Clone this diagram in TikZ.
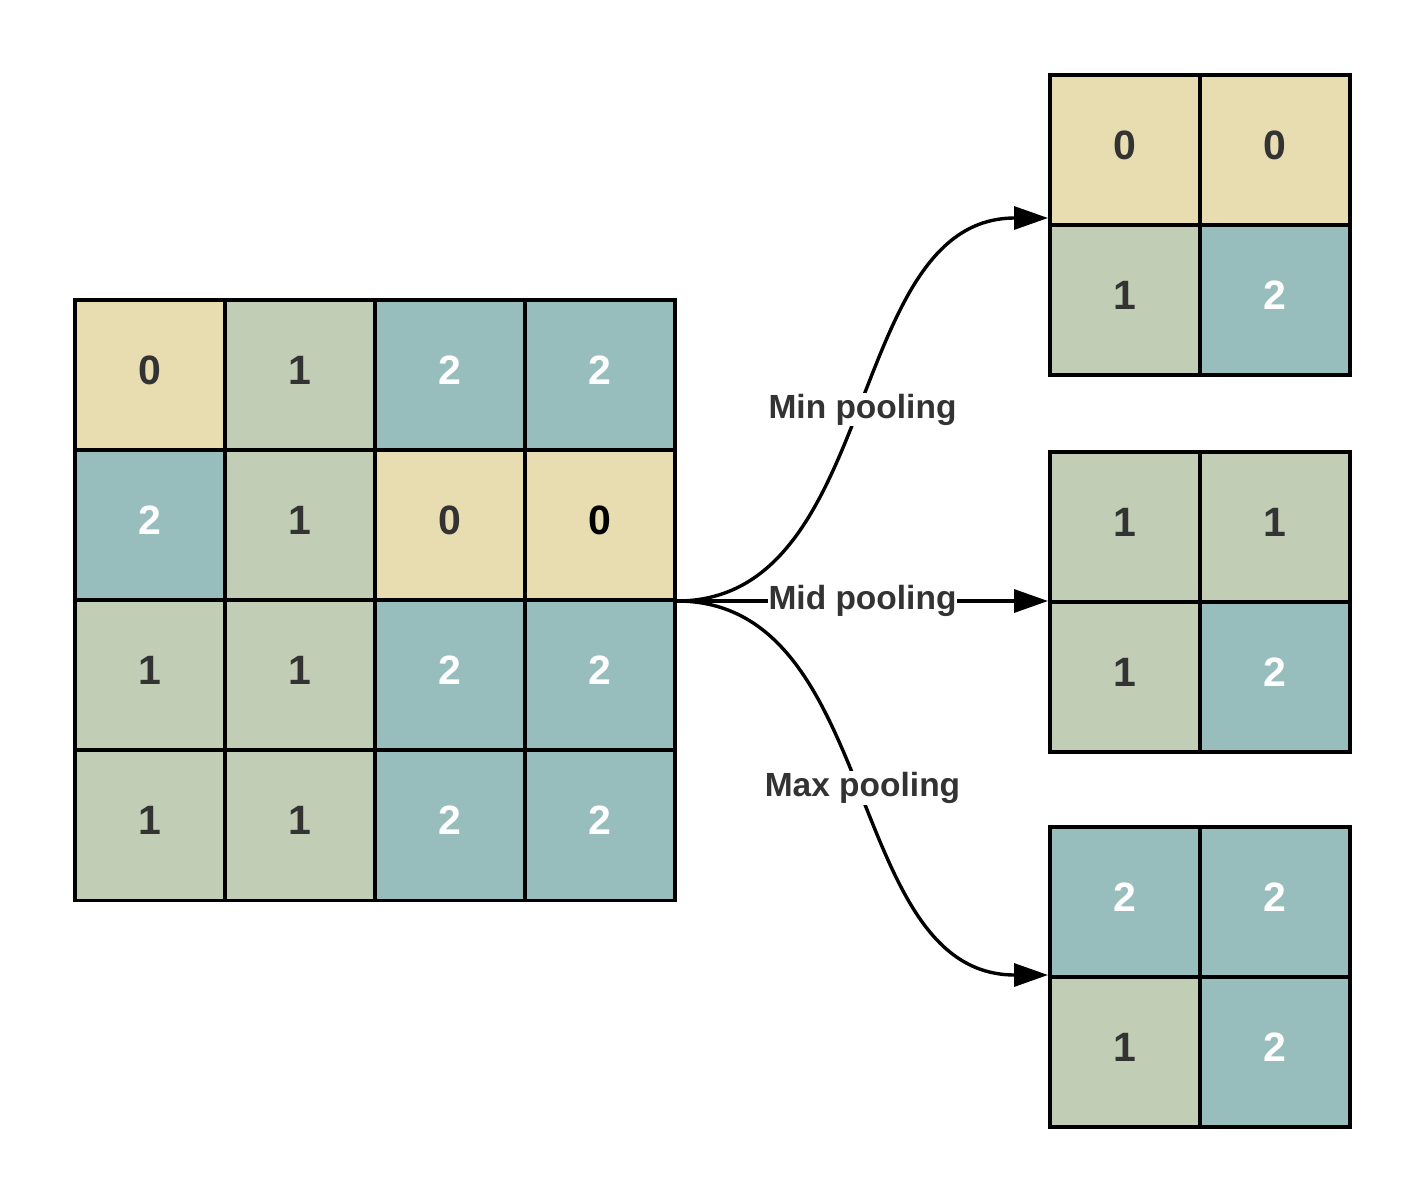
\documentclass[tikz,border=0pt]{standalone}
\usepackage{fontspec}
\setmainfont{Liberation Sans}
\usetikzlibrary{arrows.meta}
\definecolor{cy}{HTML}{E8DDB0}
\definecolor{cg}{HTML}{C1CDB5}
\definecolor{ct}{HTML}{98BDBD}
\definecolor{txt}{HTML}{333333}
\begin{document}
\begin{tikzpicture}[x=1pt,y=-1pt,
 cell/.style={draw=black,line width=3.8pt,minimum size=150pt,inner sep=0pt,outer sep=0pt,
   font=\fontsize{41}{48}\selectfont\bfseries, text depth=10pt, text=txt},
 c0/.style={cell,fill=cy},
 c1/.style={cell,fill=cg},
 c2/.style={cell,fill=ct,text=white},
 lbl/.style={fill=white, text=txt, font=\fontsize{33.5}{40}\selectfont\bfseries, inner sep=1pt},
 conn/.style={line width=3.4pt, -{Triangle[length=34pt,width=23pt]}}]
\useasboundingbox (0,0) rectangle (1425,1202);
% left grid
\node[c0] (L11) at (150,375) {0};
\node[c1] (L12) at (300,375) {1};
\node[c2] (L13) at (450,375) {2};
\node[c2] (L14) at (600,375) {2};
\node[c2] (L21) at (150,525) {2};
\node[c1] (L22) at (300,525) {1};
\node[c0] (L23) at (450,525) {0};
\node[c0,text=black] (L24) at (600,525) {0};
\node[c1] (L31) at (150,675) {1};
\node[c1] (L32) at (300,675) {1};
\node[c2] (L33) at (450,675) {2};
\node[c2] (L34) at (600,675) {2};
\node[c1] (L41) at (150,825.5) {1};
\node[c1] (L42) at (300,825.5) {1};
\node[c2] (L43) at (450,825.5) {2};
\node[c2] (L44) at (600,825.5) {2};
% min result
\node[c0] (A11) at (1125,150) {0};
\node[c0] (A12) at (1275,150) {0};
\node[c1] (A21) at (1125,300) {1};
\node[c2] (A22) at (1275,300) {2};
% mid result
\node[c1] (B11) at (1125,527) {1};
\node[c1] (B12) at (1275,527) {1};
\node[c1] (B21) at (1125,677) {1};
\node[c2] (B22) at (1275,677) {2};
% max result
\node[c2] (C11) at (1125,902) {2};
\node[c2] (C12) at (1275,902) {2};
\node[c1] (C21) at (1125,1052) {1};
\node[c2] (C22) at (1275,1052) {2};
% connectors
\coordinate (src) at (677,601);
\coordinate (tmin) at (1048,218);
\coordinate (tmid) at (1048,601);
\coordinate (tmax) at (1048,975);
\draw[conn] (src) .. controls +(205,0) and +(-205,0) .. node[lbl] (lmin) {Min pooling} (tmin);
\draw[conn] (src) -- node[lbl] (lmid) {Mid pooling} (tmid);
\draw[conn] (src) .. controls +(205,0) and +(-205,0) .. node[lbl] (lmax) {Max pooling} (tmax);
\end{tikzpicture}
\end{document}
